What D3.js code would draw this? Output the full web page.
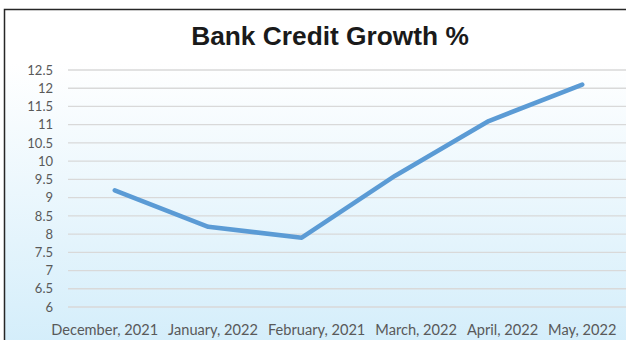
<!DOCTYPE html>
<html>
<head>
<meta charset="utf-8">
<script src="https://cdn.jsdelivr.net/npm/d3@7"></script>
<style>
html,body{margin:0;padding:0;background:#fff;}
svg{display:block;}
</style>
</head>
<body>
<svg id="chart" width="626" height="340"></svg>
<script>
const categories = ["December, 2021","January, 2022","February, 2021","March, 2022","April, 2022","May, 2022"];
const values = [9.2, 8.2, 7.9, 9.6, 11.1, 12.1];
const yTicks = [6,6.5,7,7.5,8,8.5,9,9.5,10,10.5,11,11.5,12,12.5];
const title = "Bank Credit Growth %";

const svg = d3.select("#chart");
const W = 626, H = 340;

const defs = svg.append("defs");
const grad = defs.append("linearGradient").attr("id","bg").attr("x1",0).attr("y1",0).attr("x2",0).attr("y2",1);
grad.append("stop").attr("offset","0%").attr("stop-color","#ffffff");
grad.append("stop").attr("offset","15%").attr("stop-color","#ffffff");
grad.append("stop").attr("offset","100%").attr("stop-color","#d0ecfa");

// frame
svg.append("rect").attr("x",4.5).attr("y",9.5).attr("width",W+20).attr("height",H+20)
  .attr("fill","url(#bg)").attr("stroke","#262626").attr("stroke-width",1.5);

const x = d3.scaleBand().domain(categories).range([68, 629]);
const y = d3.scaleLinear().domain([6, 12.5]).range([307, 70]);

// gridlines
svg.append("g").selectAll("line").data(yTicks).join("line")
  .attr("x1",68).attr("x2",W+10)
  .attr("y1",d=>y(d)).attr("y2",d=>y(d))
  .attr("stroke","#d9d9d9").attr("stroke-width",1.3);

// y axis labels
const yAxis = d3.axisLeft(y).tickValues(yTicks).tickSize(0).tickPadding(0).tickFormat(d=>String(d));
const yg = svg.append("g").attr("transform","translate(53,0)").call(yAxis);
yg.select(".domain").remove();
yg.selectAll("text").attr("font-family","Lato, 'Open Sans', sans-serif").attr("font-size",13).attr("fill","#595959");

// x labels
const xg = svg.append("g");
const labels = xg.selectAll("text").data(categories).join("text")
  .attr("y",335)
  .attr("text-anchor","middle")
  .attr("font-family","Lato, 'Open Sans', sans-serif")
  .attr("font-size",14.6)
  .attr("fill","#595959")
  .text(d=>d);
// spread labels evenly (Excel-like) to avoid overlap
const cx = d => x(d) + x.bandwidth()/2;
const widths = [];
labels.each(function(){ widths.push(this.getComputedTextLength()); });
const n = categories.length;
const left = cx(categories[0]) - widths[0]/2 - 10;
const right = cx(categories[n-1]) + widths[n-1]/2;
const gap = (right - left - d3.sum(widths)) / (n-1);
let pos = left;
const centers = widths.map(w => { const c = pos + w/2; pos += w + gap; return c; });
labels.attr("x",(d,i)=>centers[i]);

// line
const line = d3.line().x((d,i)=>cx(categories[i])).y(d=>y(d));
svg.append("path").datum(values).attr("d",line)
  .attr("fill","none").attr("stroke","#5b9bd5").attr("stroke-width",4.5)
  .attr("stroke-linecap","round").attr("stroke-linejoin","round");

// title
svg.append("text").attr("x",330).attr("y",45).attr("text-anchor","middle")
  .attr("font-family","'Liberation Sans', Arial, sans-serif").attr("font-weight","bold")
  .attr("font-size",26.3).attr("fill","#1a1a1a").text(title);
</script>
</body>
</html>
